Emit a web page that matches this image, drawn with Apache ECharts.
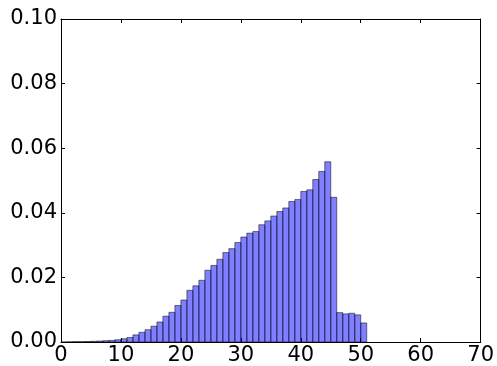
<!DOCTYPE html>
<html>
<head>
<meta charset="utf-8">
<script src="https://cdn.jsdelivr.net/npm/echarts@6/dist/echarts.min.js"></script>
<style>
html,body{margin:0;padding:0;background:#fff;}
#chart{width:497px;height:366px;}
</style>
</head>
<body>
<div id="chart"></div>
<script>
// Histogram bin left edges (width 1) and densities
const binStarts = [0,1,2,3,4,5,6,7,8,9,10,11,12,13,14,15,16,17,18,19,20,21,22,23,24,25,26,27,28,29,30,31,32,33,34,35,36,37,38,39,40,41,42,43,44,45,46,47,48,49,50];
const densities = [0,0.00005,0.0001,0.0001,0.00015,0.0002,0.0003,0.0004,0.0005,0.0007,
  0.001,0.0014,0.0022,0.003,0.0038,0.0049,0.0062,0.008,0.0092,0.0113,
  0.013,0.016,0.0174,0.0191,0.0222,0.0237,0.0256,0.0277,0.0289,0.0308,
  0.0325,0.0337,0.0342,0.0363,0.0375,0.039,0.0404,0.0415,0.0435,0.0441,
  0.0466,0.0471,0.0503,0.0528,0.0558,0.0448,0.0091,0.0087,0.0089,0.0084,
  0.0059];
const binWidth = 1;
const xTicks = [0,10,20,30,40,50,60,70];
const yTicks = [0,0.02,0.04,0.06,0.08,0.10];

const chart = echarts.init(document.getElementById('chart'), null, {renderer:'canvas'});
const font = {fontFamily:'DejaVu Sans', fontSize:21, color:'#000'};
const lineStyle = {color:'#000', width:1};
const data = binStarts.map((s,i)=>[s, densities[i]]);

chart.setOption({
  animation:false,
  backgroundColor:'#fff',
  grid:{left:61, right:16, top:19, bottom:22, containLabel:false},
  xAxis:[{
    type:'value', min:xTicks[0], max:xTicks[xTicks.length-1], interval:10,
    axisLine:{show:true, onZero:false, lineStyle},
    axisTick:{show:true, inside:true, length:4, lineStyle},
    axisLabel:Object.assign({margin:3}, font),
    splitLine:{show:false}
  },{
    type:'value', position:'top', min:xTicks[0], max:xTicks[xTicks.length-1], interval:10,
    axisLine:{show:true, onZero:false, lineStyle},
    axisTick:{show:true, inside:true, length:4, lineStyle},
    axisLabel:{show:false}, splitLine:{show:false}
  }],
  yAxis:[{
    type:'value', min:yTicks[0], max:yTicks[yTicks.length-1], interval:0.02,
    axisLine:{show:true, onZero:false, lineStyle},
    axisTick:{show:true, inside:true, length:4, lineStyle},
    axisLabel:Object.assign({margin:4, formatter:v=>v.toFixed(2)}, font),
    splitLine:{show:false}
  },{
    type:'value', position:'right', min:yTicks[0], max:yTicks[yTicks.length-1], interval:0.02,
    axisLine:{show:true, onZero:false, lineStyle},
    axisTick:{show:true, inside:true, length:4, lineStyle},
    axisLabel:{show:false}, splitLine:{show:false}
  }],
  series:[{
    type:'custom',
    data:data,
    renderItem:function(params, api){
      const x0 = api.value(0), y = api.value(1);
      const p0 = api.coord([x0, y]);
      const p1 = api.coord([x0+binWidth, 0]);
      return {
        type:'rect',
        shape:{x:p0[0], y:p0[1], width:p1[0]-p0[0], height:p1[1]-p0[1]},
        style:{fill:'rgba(0,0,255,0.5)', stroke:'rgba(0,0,0,0.5)', lineWidth:1}
      };
    },
    encode:{x:0, y:1},
    z:1
  }]
});
</script>
</body>
</html>
